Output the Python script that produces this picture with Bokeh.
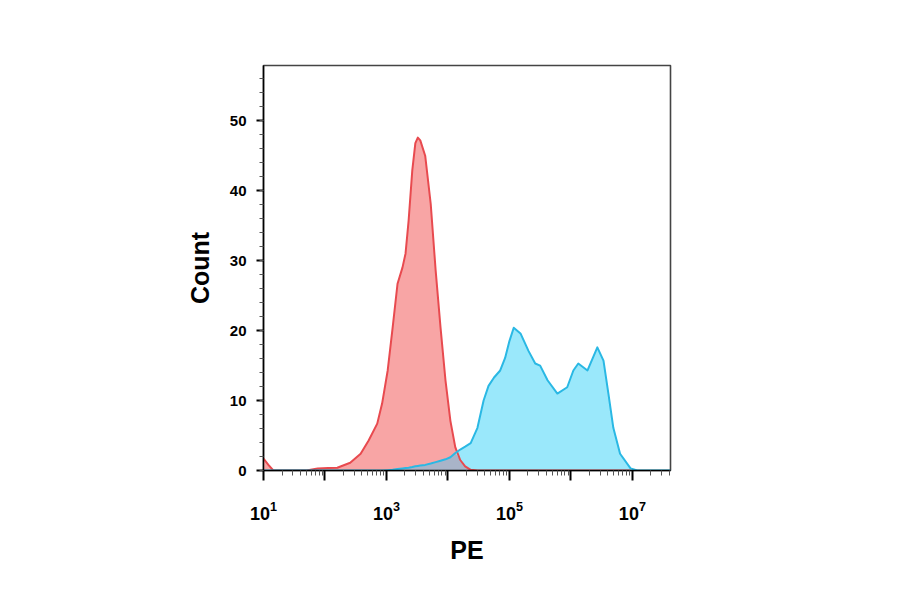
import numpy as np
from bokeh.plotting import figure
from bokeh.models import Range1d, FixedTicker, SingleIntervalTicker
from bokeh.embed import file_html
from bokeh.resources import INLINE

# PE intensity (log10 exponent) sampling positions
pe_log = [1.00, 1.08, 1.16, 1.40, 1.70, 1.88, 2.05, 2.20, 2.41, 2.58, 2.71, 2.85, 2.93,
          3.02, 3.10, 3.18, 3.26, 3.31, 3.36, 3.42, 3.47, 3.51, 3.55, 3.63, 3.72, 3.80, 3.88,
          3.96, 4.04, 4.12, 4.20, 4.28, 4.37, 4.48, 4.58, 4.66, 4.75, 4.85, 4.93, 5.00,
          5.07, 5.18, 5.31, 5.42, 5.50, 5.62, 5.78, 5.94, 6.04, 6.12, 6.27, 6.43, 6.53,
          6.61, 6.69, 6.80, 6.97, 7.08, 7.30, 7.62]

# Counts: negative control (red)
count_red = [1.7, 0.8, 0.0, 0.0, 0.0, 0.3, 0.35, 0.4, 1.1, 2.4, 4.3, 6.7, 9.6,
             14.3, 20.4, 26.7, 29.0, 31.0, 35.7, 42.9, 46.8, 47.6, 47.2, 45.0, 38.1, 28.6, 20.4,
             12.9, 7.1, 3.3, 1.5, 0.6, 0.1, 0.0, 0.0, 0.0, 0.0, 0.0, 0.0, 0.0,
             0.0, 0.0, 0.0, 0.0, 0.0, 0.0, 0.0, 0.0, 0.0, 0.0, 0.0, 0.0, 0.0,
             0.0, 0.0, 0.0, 0.0, 0.0, 0.0, 0.0]

# Counts: stained sample (cyan)
count_cyan = [0.0, 0.0, 0.0, 0.0, 0.0, 0.0, 0.0, 0.0, 0.0, 0.0, 0.0, 0.0, 0.0,
              0.05, 0.1, 0.2, 0.3, 0.35, 0.4, 0.5, 0.6, 0.65, 0.7, 0.8, 1.0, 1.2, 1.4,
              1.6, 1.9, 2.5, 3.0, 3.4, 3.9, 6.1, 10.0, 12.1, 13.3, 14.3, 16.1, 18.5,
              20.4, 19.6, 17.1, 15.3, 15.0, 12.9, 11.0, 11.9, 14.3, 15.3, 14.3, 17.6, 15.7,
              11.0, 6.1, 2.4, 0.3, 0.0, 0.0, 0.0]

x_major_exp = [1, 2, 3, 4, 5, 6, 7]
x_labelled_exp = [1, 3, 5, 7]
y_max = 57.9
x_max_exp = 7.62
red_end_exp = 7.0

x = 10 ** np.array(pe_log)
red = np.array(count_red)
cyan = np.array(count_cyan)
overlap = np.minimum(red, cyan)

p = figure(width=884, height=578, output_backend="svg", toolbar_location=None,
           x_axis_type="log",
           x_range=Range1d(10 ** x_major_exp[0], 10 ** x_max_exp),
           y_range=Range1d(0, y_max),
           min_border_left=263, min_border_right=214,
           min_border_top=65, min_border_bottom=108)
p.grid.visible = False
p.background_fill_color = "white"
p.border_fill_color = "white"
p.outline_line_color = "#444444"
p.outline_line_width = 1.6

# areas
p.varea(x=x, y1=0, y2=red, fill_color="#f8a5a5", fill_alpha=1.0)
p.varea(x=x, y1=0, y2=cyan, fill_color="#9ae8fb", fill_alpha=1.0)
p.varea(x=x, y1=0, y2=overlap, fill_color="#a9b4c8", fill_alpha=1.0)

mask = np.array(pe_log) <= red_end_exp
p.line(x[mask], red[mask], line_color="#e84a4f", line_width=2, line_join="round")
p.line(x, cyan, line_color="#2ab8e4", line_width=2, line_join="round")

# x axis
majors = [10 ** e for e in x_major_exp]
minors = [k * 10 ** e for e in x_major_exp for k in range(2, 10)]
p.xaxis.ticker = FixedTicker(ticks=majors, minor_ticks=minors)
p.xaxis.major_label_overrides = {10 ** e: "" for e in x_major_exp if e not in x_labelled_exp}
p.xaxis.axis_label = "PE"

# y axis
p.yaxis.ticker = SingleIntervalTicker(interval=10, num_minor_ticks=5)
p.yaxis.axis_label = "Count"

for ax in (p.xaxis[0], p.yaxis[0]):
    ax.axis_line_color = "black"
    ax.axis_line_width = 1.5
    ax.major_tick_line_color = "black"
    ax.major_tick_line_width = 2
    ax.minor_tick_line_color = "#555555"
    ax.minor_tick_line_width = 1
    ax.major_tick_in = 0
    ax.minor_tick_in = 0
    ax.major_label_text_font = "Liberation Sans"
    ax.major_label_text_font_style = "bold"
    ax.major_label_text_color = "black"
    ax.axis_label_text_font = "Liberation Sans"
    ax.axis_label_text_font_style = "bold"
    ax.axis_label_text_font_size = "25px"
    ax.axis_label_text_color = "black"

p.xaxis.major_label_text_font_size = "18px"
p.yaxis.major_label_text_font_size = "15px"
p.xaxis.major_tick_out = 10
p.xaxis.minor_tick_out = 5
p.xaxis.major_label_standoff = 20
p.xaxis.axis_label_standoff = 13
p.yaxis.major_tick_out = 7
p.yaxis.minor_tick_out = 4
p.yaxis.major_label_standoff = 10
p.yaxis.axis_label_standoff = 13

open("out.html", "w").write(file_html(p, INLINE))
